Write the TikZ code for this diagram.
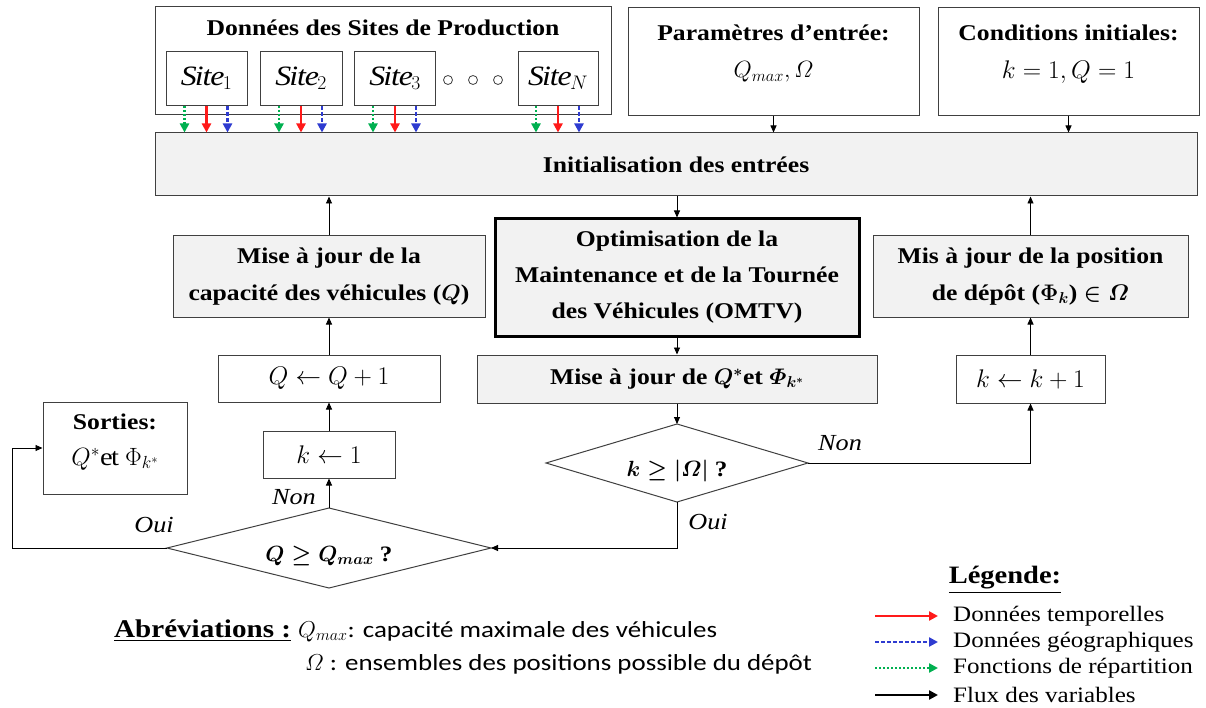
\RequirePackage{fix-cm}
\documentclass[tikz,border=0pt]{standalone}
\usepackage{amsmath,amssymb}
\usepackage{fontspec}
\setmainfont{Liberation Serif}[FakeStretch=1.14]
\newfontfamily\calib{Carlito}[FakeStretch=1.17]
\usetikzlibrary{arrows.meta}
\definecolor{bordc}{HTML}{404040}
\definecolor{boxfill}{HTML}{F2F2F2}
\definecolor{myred}{HTML}{FF1A1A}
\definecolor{myblue}{HTML}{2E3BD0}
\definecolor{mygreen}{HTML}{00B050}
\newcommand{\fsz}[2]{\fontsize{#1}{#2}\selectfont}
\begin{document}
\begin{tikzpicture}[x=1pt,y=-1pt,
  box/.style={draw=bordc,line width=1pt,inner sep=0pt,align=center},
  gbox/.style={box,fill=boxfill},
  txt/.style={inner sep=0pt,align=center},
  flow/.style={black,line width=0.9pt,-{Triangle[length=7pt,width=6pt]}},
  tred/.style={myred,line width=2.6pt,-{Triangle[length=9pt,width=9pt]}},
  tblue/.style={myblue,line width=2.4pt,dash pattern=on 4pt off 2pt,-{Triangle[length=9pt,width=9pt]}},
  tgreen/.style={mygreen,line width=2.4pt,dash pattern=on 2pt off 2pt,-{Triangle[length=9pt,width=9pt]}},
  tblack/.style={black,line width=2.6pt,-{Triangle[length=9pt,width=9pt]}},
  dia/.style={draw=bordc,line width=1pt},
  lab/.style={inner sep=0pt,font=\fsz{23}{27}\itshape},
  ttl/.style={txt,font=\fsz{22.5}{27}\bfseries},
  mth/.style={font=\fsz{25.5}{30}},
  sitem/.style={font=\fsz{28}{32}},
]
\fill[white] (0,0) rectangle (1206,708);
\useasboundingbox (0,0) rectangle (1206,708);

% --- top row ---
\node[box,minimum width=456pt,minimum height=108pt] (sites) at (383,61) {};
\node[ttl] (tsites) at (383,28) {Données des Sites de Production};
\node[box,sitem,minimum width=81pt,minimum height=54pt] (site1) at (206.5,78.5) {$\mathit{Site}_{1}$};
\node[box,sitem,minimum width=82pt,minimum height=54pt] (site2) at (301,78.5) {$\mathit{Site}_{2}$};
\node[box,sitem,minimum width=81pt,minimum height=54pt] (site3) at (395,78.5) {$\mathit{Site}_{3}$};
\node[box,sitem,minimum width=80pt,minimum height=54pt] (siteN) at (558,78.5) {$\mathit{Site}_{N}$};
\node[circle,draw=bordc,line width=0.8pt,minimum size=9pt,inner sep=0pt] (c1) at (448,80) {};
\node[circle,draw=bordc,line width=0.8pt,minimum size=9pt,inner sep=0pt] (c2) at (473,80) {};
\node[circle,draw=bordc,line width=0.8pt,minimum size=9pt,inner sep=0pt] (c3) at (498,80) {};

\node[box,minimum width=291pt,minimum height=108pt] (param) at (773.5,62) {};
\node[ttl] (tparam) at (773.5,33) {Paramètres d’entrée:};
\node[txt,font=\fsz{23.5}{28}] (vparam) at (773.5,72) {$Q_{max},\varOmega$};
\node[box,minimum width=261pt,minimum height=108pt] (cond) at (1068.5,62) {};
\node[ttl] (tcond) at (1068.5,33) {Conditions initiales:};
\node[txt,mth] (vcond) at (1068.5,72) {$k=1, Q=1$};

\node[gbox,font=\fsz{22.5}{27}\bfseries,minimum width=1042pt,minimum height=63pt] (init) at (676,164.5) {Initialisation des entrées};

% --- middle ---
\node[gbox,font=\fsz{22.5}{37}\bfseries,minimum width=312pt,minimum height=81pt] (mq) at (329,276.5) {Mise à jour de la\\capacité des véhicules ($\boldsymbol{Q}$)};
\node[gbox,draw=black,line width=3pt,font=\fsz{22.5}{36}\bfseries,minimum width=364pt,minimum height=117pt] (omtv) at (677,277.5) {Optimisation de la\\Maintenance et de la Tournée\\des Véhicules (OMTV)};
\node[gbox,font=\fsz{22.5}{37}\bfseries,minimum width=315pt,minimum height=81pt] (pos) at (1030.5,276.5) {Mis à jour de la position\\de dépôt ($\boldsymbol{\Phi_k}$) $\boldsymbol{\in \varOmega}$};

\node[box,mth,minimum width=222pt,minimum height=47pt] (q1) at (329,378.5) {$Q \leftarrow Q+1$};
\node[gbox,font=\fsz{22.5}{27}\bfseries,minimum width=400pt,minimum height=48pt] (mqs) at (677,379) {Mise à jour de $\boldsymbol{Q^{*}}$et $\boldsymbol{\varPhi_{k^{*}}}$};
\node[box,mth,minimum width=149pt,minimum height=48pt] (k1p) at (1030.5,379) {$k \leftarrow k+1$};

\node[box,minimum width=144pt,minimum height=92pt] (sort) at (115,448) {};
\node[ttl] (tsort) at (115,422) {Sorties:};
\node[txt,font=\fsz{25}{30}] (vsort) at (115,459) {$Q^{*}\mathrm{et}\ \Phi_{k^{*}}$};
\node[box,mth,minimum width=132pt,minimum height=47pt] (k1) at (329,454.5) {$k \leftarrow 1$};

% --- diamonds ---
\coordinate (dqT) at (329,508);
\coordinate (dqR) at (491,548);
\coordinate (dqB) at (329,588);
\coordinate (dqL) at (167,548);
\draw[dia] (dqT) -- (dqR) -- (dqB) -- (dqL) -- cycle;
\node[txt,font=\fsz{22}{26}\bfseries] (tdq) at (329,556) {$\boldsymbol{Q \geq Q_{max}}$ ?};
\coordinate (dkT) at (677,424);
\coordinate (dkR) at (808,463);
\coordinate (dkB) at (677,502);
\coordinate (dkL) at (546,463);
\draw[dia] (dkT) -- (dkR) -- (dkB) -- (dkL) -- cycle;
\node[txt,font=\fsz{22}{26}\bfseries] (tdk) at (677,471) {$\boldsymbol{k \geq |\varOmega|}$ ?};

\node[lab] (oui1) at (154,525) {Oui};
\node[lab] (non1) at (294,497) {Non};
\node[lab] (non2) at (840,443) {Non};
\node[lab] (oui2) at (708,522) {Oui};

% --- site arrows ---
\foreach \s in {site1,site2,site3,siteN}{
  \path ([xshift=-22pt]\s.south) coordinate (\s g) ([xshift=21pt]\s.south) coordinate (\s b);
  \draw[tgreen] (\s g) -- (\s g |- init.north);
  \draw[tred] (\s.south) -- (\s.south |- init.north);
  \draw[tblue] (\s b) -- (\s b |- init.north);
}

% --- flow connectors ---
\draw[flow] (param.south) -- (param.south |- init.north);
\draw[flow] (cond.south) -- (cond.south |- init.north);
\draw[flow] (mq.north) -- (mq.north |- init.south);
\draw[flow] (omtv.north |- init.south) -- (omtv.north);
\draw[flow] (pos.north) -- (pos.north |- init.south);
\draw[flow] (omtv.south) -- (mqs.north);
\draw[flow] (mqs.south) -- (dkT);
\draw[flow] (dkR) -| (k1p.south);
\draw[flow] (k1p.north) -- (pos.south);
\draw[flow] (dkB) |- (dqR);
\draw[flow] (dqT) -- (k1.south);
\draw[flow] (k1.north) -- (q1.south);
\draw[flow] (q1.north) -- (mq.south);
\draw[flow] (dqL) -- ++(-155,0) |- (sort.west);

% --- abbreviations ---
\node[txt,anchor=base west,font=\fsz{25.5}{30}\bfseries] (abr) at (114,637) {\underline{Abréviations :}};
\node[txt,anchor=base west,font=\calib\fsz{23}{27}] (abr1) at (298,637) {$Q_{max}$: capacité maximale des véhicules};
\node[txt,anchor=base west,font=\calib\fsz{23}{27}] (abr2) at (305,670) {$\varOmega$ : ensembles des positions possible du dépôt};

% --- legend ---
\node[txt,font=\fsz{25}{30}\bfseries] (leg) at (1005,580) {\underline{Légende:}};
\coordinate (l1a) at (875,616); \coordinate (l1b) at (938,616);
\coordinate (l2a) at (875,642); \coordinate (l2b) at (938,642);
\coordinate (l3a) at (875,668); \coordinate (l3b) at (938,668);
\coordinate (l4a) at (875,695); \coordinate (l4b) at (938,695);
\draw[tred] (l1a) -- (l1b);
\draw[tblue] (l2a) -- (l2b);
\draw[tgreen] (l3a) -- (l3b);
\draw[tblack] (l4a) -- (l4b);
\node[txt,anchor=west,font=\fsz{22}{26}] (lt1) at (953,616) {Données temporelles};
\node[txt,anchor=west,font=\fsz{22}{26}] (lt2) at (953,642) {Données géographiques};
\node[txt,anchor=west,font=\fsz{22}{26}] (lt3) at (953,668) {Fonctions de répartition};
\node[txt,anchor=west,font=\fsz{22}{26}] (lt4) at (953,695) {Flux des variables};
\end{tikzpicture}
\end{document}
